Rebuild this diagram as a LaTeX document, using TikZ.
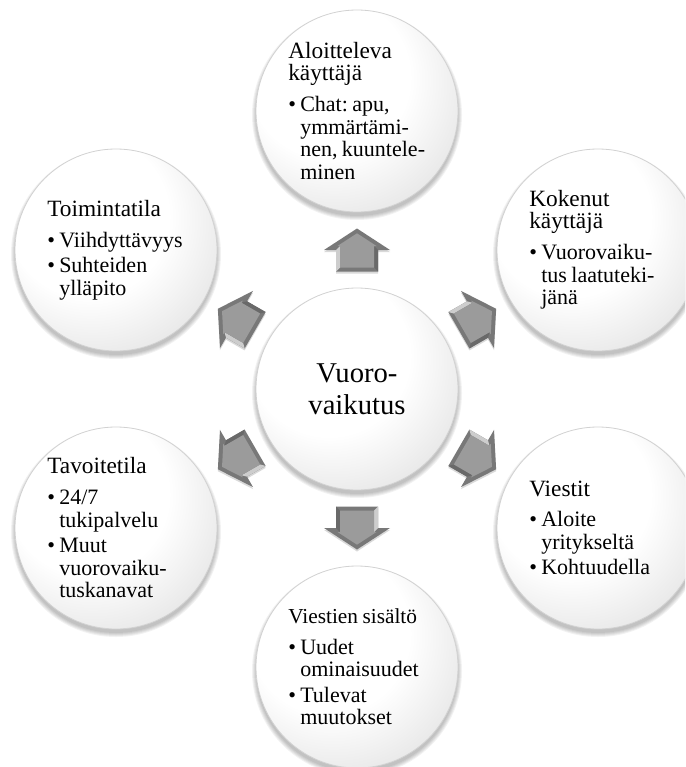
\documentclass[tikz,border=0pt]{standalone}
\usepackage{fontspec}
\setmainfont{Liberation Serif}
\usetikzlibrary{calc}
\frenchspacing
\pgfdeclareradialshading{bubble}{\pgfpoint{-10bp}{12bp}}{color(0bp)=(white); color(20bp)=(white); color(32bp)=(gray!16); color(42bp)=(gray!27); color(52bp)=(gray!40); color(66bp)=(gray!58)}
\definecolor{arrowout}{RGB}{120,120,120}
\definecolor{arrowin}{RGB}{155,155,155}
\definecolor{arrowhi}{RGB}{205,205,205}
\definecolor{arrowlo}{RGB}{105,105,105}
\newcommand{\ttl}[2][17.5pt]{{\fontsize{#1}{16.8pt}\selectfont #2\par}}
\newcommand{\bul}[1]{{\fontsize{16.5pt}{17pt}\selectfont\hangindent=9pt\hangafter=1\noindent\makebox[9pt][l]{•}#1\par}}
\newcommand{\bigarrow}[2]{%
  \begin{scope}[shift={(#1)},yshift=-1.5pt,rotate=#2]
    \fill[black,opacity=0.15] (-21.5,-21) -- (0,-21) -- (0,-33) -- (21.5,0) -- (0,33) -- (0,21) -- (-21.5,21) -- cycle;
  \end{scope}
  \begin{scope}[shift={(#1)},rotate=#2]
    \fill[arrowout] (-21.5,-21) -- (0,-21) -- (0,-33) -- (21.5,0) -- (0,33) -- (0,21) -- (-21.5,21) -- cycle;
    \fill[arrowhi] (-21.5,-21) -- (0,-21) -- (4,-17) -- (-17.5,-17) -- cycle;
    \fill[arrowlo] (-21.5,21) -- (0,21) -- (4,17) -- (-17.5,17) -- cycle;
    \fill[arrowin] (-17.5,-17) -- (4,-17) -- (4,-19.5) -- (16.7,0) -- (4,19.5) -- (4,17) -- (-17.5,17) -- cycle;
  \end{scope}}
\begin{document}
\begin{tikzpicture}[x=0.75pt,y=-0.75pt,
  bubble/.style={circle, minimum size=151.5pt, inner sep=0pt, shading=bubble, draw=gray!35, line width=0.6pt},
  txt/.style={anchor=west, text width=135pt, inner sep=0pt},
  ctxt/.style={align=center, inner sep=0pt, font=\fontsize{21.5pt}{24pt}\selectfont},
  shadowc/.style={fill=black, opacity=0.05}
]
\useasboundingbox (0,0) rectangle (685,767);
\clip (0,0) rectangle (685,767);
\fill[white] (0,0) rectangle (685,767);
% centres
\coordinate (p0) at (357,389);
\coordinate (p1) at (357,111);
\coordinate (p2) at (598,250);
\coordinate (p3) at (598,528);
\coordinate (p4) at (357,667);
\coordinate (p5) at (116,528);
\coordinate (p6) at (116,250);
% soft shadows
\foreach \p in {p0,p1,p2,p3,p4,p5,p6}{
  \foreach \k in {0,1,2,3,4}{
    \fill[shadowc] ($(\p)+(0,4)$) circle[radius={(75.75+0.75*\k)*1pt}];
  }
}
% circles
\node[bubble] (c0) at (p0) {};
\node[bubble] (c1) at (p1) {};
\node[bubble] (c2) at (p2) {};
\node[bubble] (c3) at (p3) {};
\node[bubble] (c4) at (p4) {};
\node[bubble] (c5) at (p5) {};
\node[bubble] (c6) at (p6) {};
% arrows between centre and outer circles
\coordinate (m1) at ($(c0.center)!0.5!(c1.center)$);
\coordinate (m2) at ($(c0.center)!0.5!(c2.center)$);
\coordinate (m3) at ($(c0.center)!0.5!(c3.center)$);
\coordinate (m4) at ($(c0.center)!0.5!(c4.center)$);
\coordinate (m5) at ($(c0.center)!0.5!(c5.center)$);
\coordinate (m6) at ($(c0.center)!0.5!(c6.center)$);
\bigarrow{m1}{90}
\bigarrow{m2}{30}
\bigarrow{m3}{-30}
\bigarrow{m4}{-90}
\bigarrow{m5}{-150}
\bigarrow{m6}{150}
% texts
\node[ctxt] (t0) at (c0.center) {Vuoro-\\vaikutus};
\node[txt] (t1) at ($(c1.center)+(-69,0)$) {\raggedright\ttl{Aloitteleva\newline käyttäjä}\vspace{6pt}\bul{Chat: apu,\newline ymmärtämi-\newline nen, kuuntele-\newline minen}};
\node[txt] (t2) at ($(c2.center)+(-69,0)$) {\raggedright\ttl{Kokenut\newline käyttäjä}\vspace{6pt}\bul{Vuorovaiku-\newline tus laatuteki-\newline jänä}};
\node[txt] (t3) at ($(c3.center)+(-69,0)$) {\raggedright\ttl{Viestit}\vspace{6pt}\bul{Aloite\newline yritykseltä}\vspace{2pt}\bul{Kohtuudella}};
\node[txt] (t4) at ($(c4.center)+(-69,0)$) {\raggedright\ttl[16pt]{Viestien sisältö}\vspace{6pt}\bul{Uudet\newline ominaisuudet}\vspace{2pt}\bul{Tulevat\newline muutokset}};
\node[txt] (t5) at ($(c5.center)+(-69,0)$) {\raggedright\ttl{Tavoitetila}\vspace{6pt}\bul{24/7\newline tukipalvelu}\vspace{2pt}\bul{Muut\newline vuorovaiku-\newline tuskanavat}};
\node[txt] (t6) at ($(c6.center)+(-69,0)$) {\raggedright\ttl{Toimintatila}\vspace{6pt}\bul{Viihdyttävyys}\vspace{2pt}\bul{Suhteiden\newline ylläpito}};
\end{tikzpicture}
\end{document}
